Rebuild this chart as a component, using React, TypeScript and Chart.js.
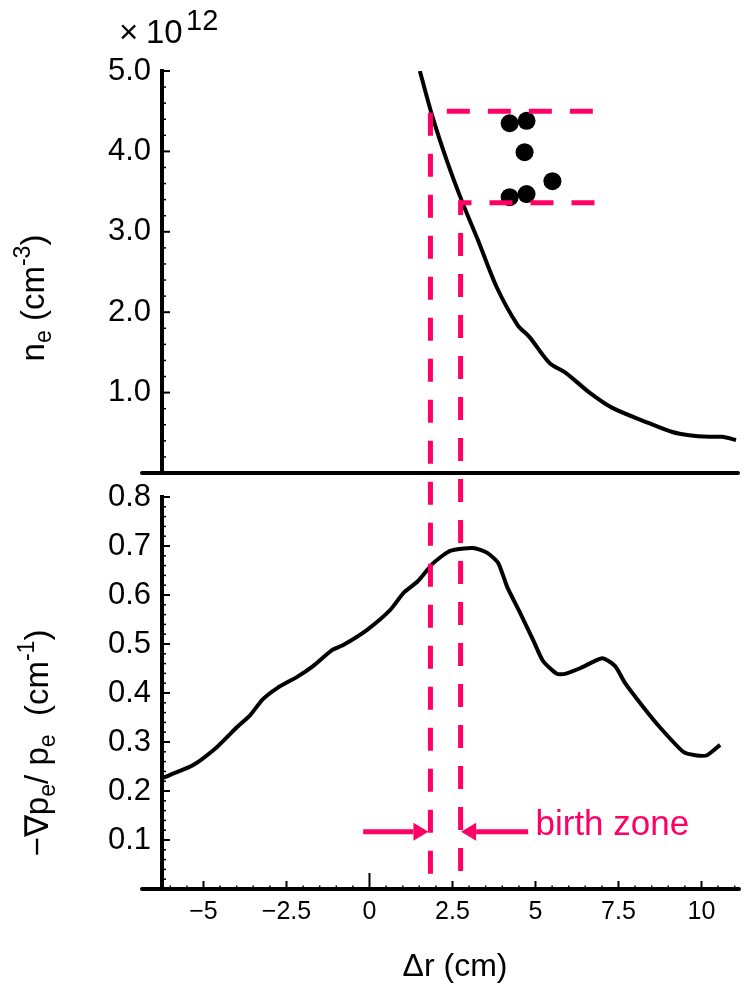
import React, { useEffect, useRef } from 'react';
import { Chart, registerables } from 'chart.js';

Chart.register(...registerables);

const W = 746;
const H = 988;
const FONT = "'Liberation Sans', Arial, Helvetica, sans-serif";
const MAGENTA = '#ff0066';

// ---------- top panel: electron density (x 10^12 cm^-3) ----------
const neX = [1.53, 1.92, 2.35, 2.82, 3.28, 3.85, 4.48, 4.84, 5.44, 5.95, 6.65, 7.34, 8.45, 9.15, 9.66, 10.26, 10.65, 11.07];
const neY = [5.0, 4.42, 3.88, 3.36, 2.9, 2.31, 1.84, 1.69, 1.37, 1.24, 1.0, 0.81, 0.62, 0.51, 0.47, 0.45, 0.45, 0.41];
const dotX = [4.24, 4.75, 4.69, 5.53, 4.24, 4.75];
const dotY = [4.35, 4.38, 3.99, 3.63, 3.43, 3.47];
const neTicks = [1, 2, 3, 4, 5];
const neMinorStep = 0.2;

// ---------- bottom panel: -grad p_e / p_e (cm^-1) ----------
const gradX = [-6.25, -6.0, -5.31, -4.59, -3.98, -3.59, -3.23, -2.78, -2.18, -1.7, -1.12, -0.79, -0.07, 0.62, 1.02, 1.44, 1.92, 2.43, 3.12, 3.55, 3.88, 4.15, 4.54, 4.93, 5.23, 5.65, 5.89, 6.36, 7.01, 7.4, 7.7, 8.25, 8.76, 9.45, 9.81, 10.17, 10.56];
const gradY = [0.226, 0.233, 0.253, 0.29, 0.331, 0.355, 0.386, 0.41, 0.433, 0.455, 0.488, 0.498, 0.529, 0.569, 0.604, 0.627, 0.665, 0.69, 0.696, 0.686, 0.665, 0.616, 0.563, 0.508, 0.465, 0.439, 0.439, 0.451, 0.471, 0.455, 0.42, 0.371, 0.329, 0.28, 0.273, 0.273, 0.294];
const gradTicks = [0.1, 0.2, 0.3, 0.4, 0.5, 0.6, 0.7, 0.8];
const gradMinorStep = 0.02;

// ---------- shared x axis ----------
const xTicks = [-5, -2.5, 0, 2.5, 5, 7.5, 10];
const xTickLabels = ['\u22125', '\u22122.5', '0', '2.5', '5', '7.5', '10'];
const xMinorStep = 0.5;
const X_MIN = -6.25;
const X_MAX = 11.1;

// ---------- birth zone annotation ----------
const zoneX = [1.85, 2.76];
const zoneNe = [4.5, 3.36];
const zoneBoxEnd = [6.75, 6.8];
const arrowFrom = [-0.19, 4.78];
const arrowLevel = 0.117;
const zoneLabel = 'birth zone';
const zoneLabelX = 5.0;
const zoneLabelY = 0.11;

type Part = { t: string; s?: 'sub' | 'sup' };
const neTitle: Part[] = [{ t: 'n' }, { t: 'e', s: 'sub' }, { t: ' (cm' }, { t: '-3', s: 'sup' }, { t: ')' }];
const gradTitle: Part[] = [
  { t: '\u2212\u2207p' }, { t: 'e', s: 'sub' }, { t: '/ p' }, { t: 'e', s: 'sub' }, { t: '  (cm' }, { t: '-1', s: 'sup' }, { t: ')' },
];
const xTitle: Part[] = [{ t: '\u0394r (cm)' }];

function drawRich(ctx: CanvasRenderingContext2D, parts: Part[], x: number, y: number, size: number, align: 'left' | 'center') {
  let w = 0;
  for (const p of parts) {
    ctx.font = `${p.s ? size * 0.7 : size}px ${FONT}`;
    w += ctx.measureText(p.t).width;
  }
  let cx = align === 'center' ? x - w / 2 : x;
  ctx.textAlign = 'left';
  ctx.textBaseline = 'alphabetic';
  for (const p of parts) {
    ctx.font = `${p.s ? size * 0.7 : size}px ${FONT}`;
    const dy = p.s === 'sub' ? size * 0.22 : p.s === 'sup' ? -size * 0.42 : 0;
    ctx.fillText(p.t, cx, y + dy);
    cx += ctx.measureText(p.t).width;
  }
}

function drawYTicks(chart: any, majors: number[], minorStep: number) {
  const { ctx, chartArea } = chart;
  const y = chart.scales.y;
  const left = chartArea.left;
  ctx.save();
  ctx.strokeStyle = '#000';
  ctx.lineWidth = 2;
  for (const v of majors) {
    const p = y.getPixelForValue(v);
    ctx.beginPath();
    ctx.moveTo(left, p);
    ctx.lineTo(left + 8, p);
    ctx.stroke();
  }
  ctx.lineWidth = 1.5;
  const n = Math.round((y.max - y.min) / minorStep);
  for (let i = 1; i < n; i++) {
    const v = y.min + i * minorStep;
    if (majors.some((m) => Math.abs(m - v) < 1e-6)) continue;
    const p = y.getPixelForValue(v);
    ctx.beginPath();
    ctx.moveTo(left, p);
    ctx.lineTo(left + 4, p);
    ctx.stroke();
  }
  ctx.restore();
}

function drawXAxisLine(chart: any) {
  const { ctx, chartArea } = chart;
  const p = chart.scales.y.getPixelForValue(0);
  ctx.save();
  ctx.strokeStyle = '#000';
  ctx.lineWidth = 4;
  ctx.lineCap = 'round';
  ctx.beginPath();
  ctx.moveTo(chartArea.left - 20, p);
  ctx.lineTo(chartArea.right + 1, p);
  ctx.stroke();
  ctx.restore();
}

function arrow(ctx: CanvasRenderingContext2D, x0: number, x1: number, y: number) {
  const dir = Math.sign(x1 - x0);
  const head = 15;
  const half = 9;
  ctx.beginPath();
  ctx.moveTo(x0, y);
  ctx.lineTo(x1 - dir * head, y);
  ctx.stroke();
  ctx.beginPath();
  ctx.moveTo(x1, y);
  ctx.lineTo(x1 - dir * head, y - half);
  ctx.lineTo(x1 - dir * head, y + half);
  ctx.closePath();
  ctx.fill();
}

export default function App() {
  const topRef = useRef<HTMLCanvasElement>(null);
  const botRef = useRef<HTMLCanvasElement>(null);

  useEffect(() => {
    document.body.style.margin = '0';
    const yTickFont = { family: FONT, size: 31 };

    const bottomDecor = {
      id: 'bottomDecor',
      afterDraw(chart: any) {
        const { ctx, chartArea } = chart;
        const xs = chart.scales.x;
        const ys = chart.scales.y;
        drawYTicks(chart, gradTicks, gradMinorStep);
        drawXAxisLine(chart);
        // x ticks (pointing up)
        const base = ys.getPixelForValue(0);
        ctx.save();
        ctx.strokeStyle = '#000';
        ctx.lineWidth = 2;
        for (const v of xTicks) {
          const p = xs.getPixelForValue(v);
          ctx.beginPath();
          ctx.moveTo(p, base);
          ctx.lineTo(p, base - (v === 0 ? 16 : 8));
          ctx.stroke();
        }
        ctx.lineWidth = 1.5;
        const start = Math.ceil(X_MIN / xMinorStep) * xMinorStep;
        for (let v = start; v <= X_MAX; v += xMinorStep) {
          if (xTicks.some((m) => Math.abs(m - v) < 1e-6)) continue;
          const p = xs.getPixelForValue(v);
          ctx.beginPath();
          ctx.moveTo(p, base);
          ctx.lineTo(p, base - 3.5);
          ctx.stroke();
        }
        // titles
        ctx.fillStyle = '#000';
        drawRich(ctx, xTitle, (chartArea.left + chartArea.right) / 2 + 5, 976, 32, 'center');
        ctx.save();
        ctx.translate(48, (chartArea.top + chartArea.bottom) / 2 + 50);
        ctx.rotate(-Math.PI / 2);
        drawRich(ctx, gradTitle, 0, 0, 33, 'center');
        ctx.restore();
        // birth zone arrows + label
        ctx.strokeStyle = MAGENTA;
        ctx.fillStyle = MAGENTA;
        ctx.lineWidth = 5;
        const ay = ys.getPixelForValue(arrowLevel);
        arrow(ctx, xs.getPixelForValue(arrowFrom[0]), xs.getPixelForValue(zoneX[0]) - 2.5, ay);
        arrow(ctx, xs.getPixelForValue(arrowFrom[1]), xs.getPixelForValue(zoneX[1]), ay);
        ctx.font = `35px ${FONT}`;
        ctx.textAlign = 'left';
        ctx.textBaseline = 'alphabetic';
        ctx.fillText(zoneLabel, xs.getPixelForValue(zoneLabelX), ys.getPixelForValue(zoneLabelY));
        ctx.restore();
      },
    };

    const bottom = new Chart(botRef.current!, {
      type: 'scatter',
      data: {
        datasets: [
          {
            data: gradX.map((x, i) => ({ x, y: gradY[i] })),
            showLine: true,
            borderColor: '#000',
            borderWidth: 4,
            pointRadius: 0,
            tension: 0.2,
            fill: false,
          } as any,
        ],
      },
      options: {
        responsive: false,
        animation: false,
        devicePixelRatio: 1,
        events: [],
        layout: { padding: { left: 0, right: 8, top: 497, bottom: 0 } },
        plugins: { legend: { display: false }, tooltip: { enabled: false } },
        scales: {
          x: {
            type: 'linear',
            min: X_MIN,
            max: X_MAX,
            afterBuildTicks: (ax: any) => {
              ax.ticks = xTicks.map((v) => ({ value: v }));
            },
            afterFit: (ax: any) => {
              ax.height = H - 889;
            },
            ticks: {
              autoSkip: false,
              maxRotation: 0,
              padding: 0,
              color: '#000',
              font: { family: FONT, size: 25 },
              callback: (_v: any, i: number) => xTickLabels[i],
            },
            grid: { display: false },
            border: { display: false },
          },
          y: {
            type: 'linear',
            min: 0,
            max: 0.8,
            afterBuildTicks: (ax: any) => {
              ax.ticks = gradTicks.map((v) => ({ value: v }));
            },
            afterFit: (ax: any) => {
              ax.width = 162;
            },
            ticks: {
              color: '#000',
              padding: 3,
              font: yTickFont,
              callback: (v: any) => Number(v).toFixed(1),
            },
            grid: { display: false },
            border: { display: true, color: '#000', width: 4 },
          },
        },
      },
      plugins: [bottomDecor],
    });

    const topDecor = {
      id: 'topDecor',
      afterDraw(chart: any) {
        const { ctx, chartArea } = chart;
        const xs = chart.scales.x;
        const yt = chart.scales.y;
        drawYTicks(chart, neTicks, neMinorStep);
        drawXAxisLine(chart);
        ctx.save();
        ctx.fillStyle = '#000';
        // multiplier
        ctx.font = `33px ${FONT}`;
        ctx.textAlign = 'left';
        ctx.textBaseline = 'alphabetic';
        ctx.fillText('\u00d7', 119, 43);
        ctx.fillText('10', 146, 43);
        ctx.font = `29px ${FONT}`;
        ctx.fillText('12', 186, 30);
        // y title
        ctx.save();
        ctx.translate(44, (chartArea.top + chartArea.bottom) / 2 + 26);
        ctx.rotate(-Math.PI / 2);
        drawRich(ctx, neTitle, 0, 0, 33, 'center');
        ctx.restore();
        // dashed birth-zone guides spanning both panels
        const yb = bottom.scales.y;
        ctx.strokeStyle = MAGENTA;
        ctx.lineWidth = 5;
        ctx.lineCap = 'butt';
        ctx.setLineDash([23, 18]);
        for (let i = 0; i < zoneX.length; i++) {
          const yy = yt.getPixelForValue(zoneNe[i]);
          const xx = xs.getPixelForValue(zoneX[i]);
          ctx.beginPath();
          ctx.moveTo(xs.getPixelForValue(zoneBoxEnd[i]), yy);
          ctx.lineTo(xx, yy);
          ctx.lineTo(xx, yb.getPixelForValue(0));
          ctx.stroke();
        }
        ctx.restore();
      },
    };

    const top = new Chart(topRef.current!, {
      type: 'scatter',
      data: {
        datasets: [
          {
            data: neX.map((x, i) => ({ x, y: neY[i] })),
            showLine: true,
            borderColor: '#000',
            borderWidth: 4,
            pointRadius: 0,
            tension: 0.3,
            fill: false,
          } as any,
          {
            data: dotX.map((x, i) => ({ x, y: dotY[i] })),
            showLine: false,
            pointRadius: 9,
            pointBackgroundColor: '#000',
            pointBorderWidth: 0,
            backgroundColor: '#000',
            borderColor: '#000',
          } as any,
        ],
      },
      options: {
        responsive: false,
        animation: false,
        devicePixelRatio: 1,
        events: [],
        layout: { padding: { left: 0, right: 8, top: 71, bottom: H - 473 } },
        plugins: { legend: { display: false }, tooltip: { enabled: false } },
        scales: {
          x: { type: 'linear', min: X_MIN, max: X_MAX, display: false },
          y: {
            type: 'linear',
            min: 0,
            max: 5,
            afterBuildTicks: (ax: any) => {
              ax.ticks = neTicks.map((v) => ({ value: v }));
            },
            afterFit: (ax: any) => {
              ax.width = 162;
            },
            ticks: {
              color: '#000',
              padding: 3,
              font: yTickFont,
              callback: (v: any) => Number(v).toFixed(1),
            },
            grid: { display: false },
            border: { display: true, color: '#000', width: 4 },
          },
        },
      },
      plugins: [topDecor],
    });

    return () => {
      top.destroy();
      bottom.destroy();
    };
  }, []);

  return (
    <div style={{ position: 'absolute', left: 0, top: 0, width: W, height: H, background: '#fff' }}>
      <canvas ref={botRef} width={W} height={H} style={{ position: 'absolute', left: 0, top: 0, width: W, height: H }} />
      <canvas ref={topRef} width={W} height={H} style={{ position: 'absolute', left: 0, top: 0, width: W, height: H }} />
    </div>
  );
}
